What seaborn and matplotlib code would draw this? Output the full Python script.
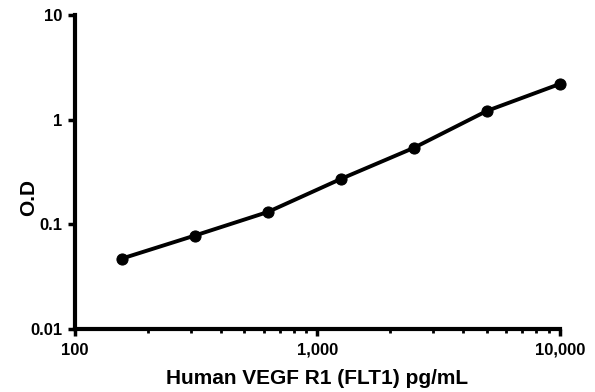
import matplotlib
matplotlib.use("Agg")
import matplotlib.pyplot as plt
import matplotlib.ticker as mticker
import seaborn as sns
import pandas as pd

concentration = [156.25, 312.5, 625, 1250, 2500, 5000, 10000]
od = [0.047, 0.078, 0.131, 0.271, 0.537, 1.21, 2.19]
x_label = "Human VEGF R1 (FLT1) pg/mL"
y_label = "O.D"

sns.set_theme(style="ticks")
plt.rcParams['font.family'] = ['Liberation Sans', 'DejaVu Sans']
plt.rcParams['font.weight'] = 'bold'
plt.rcParams['text.color'] = 'black'
plt.rcParams['axes.labelcolor'] = 'black'
plt.rcParams['xtick.color'] = 'black'
plt.rcParams['ytick.color'] = 'black'

df = pd.DataFrame({"conc": concentration, "od": od})

fig = plt.figure(figsize=(5.95, 3.92), dpi=100)
ax = fig.add_axes([0.126, 0.161, 0.815, 0.801])
sns.lineplot(data=df, x="conc", y="od", ax=ax, color="black", linewidth=2.8,
             marker="o", markersize=8, markeredgecolor="black", markerfacecolor="black",
             clip_on=False)
ax.set_xscale("log")
ax.set_yscale("log")
ax.set_xlim(100, 10000)
ax.set_ylim(0.01, 10)

ax.xaxis.set_major_locator(mticker.FixedLocator([100, 1000, 10000]))
ax.xaxis.set_major_formatter(mticker.FuncFormatter(lambda v, p: f"{int(round(v)):,}"))
ax.xaxis.set_minor_locator(mticker.LogLocator(base=10, subs=range(2, 10)))
ax.xaxis.set_minor_formatter(mticker.NullFormatter())
ax.yaxis.set_major_locator(mticker.FixedLocator([0.01, 0.1, 1, 10]))
ax.yaxis.set_major_formatter(mticker.FuncFormatter(lambda v, p: f"{v:g}"))
ax.yaxis.set_minor_locator(mticker.NullLocator())

for s in ["top", "right"]:
    ax.spines[s].set_visible(False)
for s in ["left", "bottom"]:
    ax.spines[s].set_linewidth(3)
    ax.spines[s].set_color("black")

ax.tick_params(axis="both", which="major", length=5, width=2.5, labelsize=12, colors="black")
ax.tick_params(axis="x", which="major", pad=5)
ax.tick_params(axis="y", which="major", pad=4)
ax.tick_params(axis="x", which="minor", length=3, width=2, colors="black")
for lab in ax.get_xticklabels() + ax.get_yticklabels():
    lab.set_fontweight("bold")
    lab.set_color("black")

ax.set_xlabel(x_label, fontsize=15, fontweight="bold", labelpad=8, color="black")
ax.set_ylabel(y_label, fontsize=15, fontweight="bold", color="black")
ax.yaxis.set_label_coords(-0.075, 0.42)

fig.savefig("out.png", dpi=100, facecolor="white")
